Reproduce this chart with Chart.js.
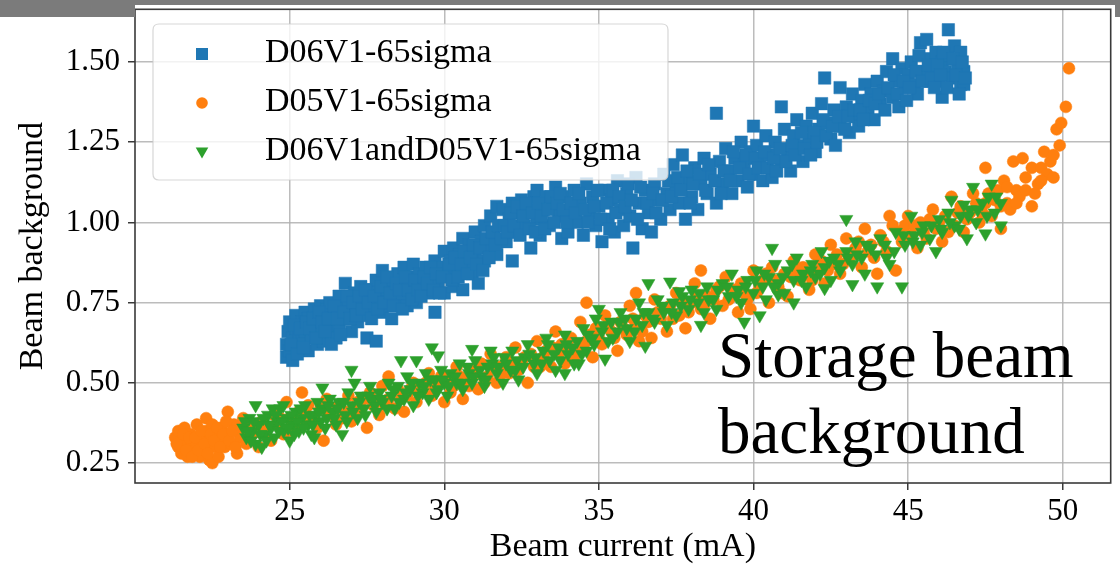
<!DOCTYPE html>
<html>
<head>
<meta charset="utf-8">
<script src="https://cdn.jsdelivr.net/npm/chart.js@4.4.1/dist/chart.umd.min.js"></script>
<style>
  html, body { margin: 0; padding: 0; background: #ffffff; }
  #wrap { position: relative; width: 1120px; height: 564px; }
  canvas { display: block; }
</style>
</head>
<body>
<div id="wrap"><canvas id="c" width="1120" height="564"></canvas></div>
<script>
// ---------- data ----------
const xTicks = [25, 30, 35, 40, 45, 50];
const yTicks = [0.25, 0.50, 0.75, 1.00, 1.25, 1.50];
const seriesNames = ['D06V1-65sigma', 'D05V1-65sigma', 'D06V1andD05V1-65sigma'];
const xTitle = 'Beam current (mA)';
const yTitle = 'Beam background';
const noteLines = ['Storage beam', 'background'];

const d06v1 = [
[24.9,0.58],[24.9,0.62],[24.95,0.66],[25.0,0.60],[25.0,0.69],[25.1,0.64],[25.1,0.57],[25.2,0.67],[25.2,0.71],[25.3,0.61],[25.3,0.65],[25.4,0.69],[25.4,0.63],[25.5,0.72],[25.5,0.66],[25.6,0.60],[25.6,0.70],[25.7,0.64],[25.8,0.73],[25.8,0.67],[25.9,0.62],[25.9,0.70],[26.0,0.74],[26.0,0.66],
[26.1,0.70],[26.1,0.63],[26.2,0.73],[26.3,0.67],[26.3,0.75],[26.4,0.70],[26.5,0.64],[26.5,0.72],[26.6,0.77],[26.6,0.68],[26.7,0.74],[26.8,0.81],[26.8,0.70],[26.9,0.76],[27.0,0.72],[27.0,0.66],[27.1,0.78],
[27.2,0.74],[27.2,0.69],[27.3,0.80],[27.4,0.76],[27.5,0.71],[27.5,0.64],[27.6,0.79],[27.7,0.74],[27.8,0.63],[27.8,0.82],[27.9,0.77],[28.0,0.72],[28.0,0.85],[28.1,0.79],[28.2,0.75],[28.3,0.82],[28.3,0.70],[28.4,0.78],[28.5,0.84],
[28.6,0.76],[28.7,0.80],[28.7,0.86],[28.8,0.74],[28.9,0.83],[29.0,0.79],[29.0,0.87],[29.1,0.75],[29.2,0.84],[29.3,0.80],[29.4,0.86],[29.5,0.78],[29.6,0.83],[29.7,0.72],[29.7,0.88],[29.8,0.81],[29.9,0.86],[30.0,0.78],[30.0,0.91],
[30.1,0.84],[30.2,0.88],[30.3,0.80],[30.3,0.92],[30.4,0.86],[30.5,0.90],[30.6,0.79],[30.6,0.95],[30.7,0.87],[30.8,0.93],[30.9,0.84],[31.0,0.97],[31.0,0.90],[31.1,0.81],[31.2,0.94],[31.3,0.99],[31.3,0.88],[31.4,0.92],[31.5,1.02],
[31.6,0.96],[31.7,1.05],[31.7,0.90],[31.8,0.99],[31.9,1.04],[32.0,0.94],[32.1,1.01],[32.2,1.06],[32.2,0.88],[32.3,0.97],[32.4,1.03],[32.5,1.07],[32.6,0.99],[32.7,1.04],[32.8,0.92],[32.9,1.08],[33.0,1.01],[33.0,1.10],
[33.1,0.96],[33.2,1.04],[33.3,1.08],[33.4,0.99],[33.5,1.05],[33.6,1.11],[33.7,1.02],[33.8,0.95],[33.9,1.08],[34.0,1.03],[34.0,0.97],[34.2,1.10],[34.3,1.00],[34.4,1.06],[34.5,0.96],[34.6,1.12],[34.7,1.03],[34.8,1.08],[34.9,0.99],[35.0,1.05],
[35.1,0.94],[35.2,1.10],[35.3,1.01],[35.4,1.07],[35.5,0.97],[35.6,1.13],[35.7,1.04],[35.8,0.99],[35.9,1.09],[36.0,1.02],[36.1,0.92],[36.2,1.14],[36.3,1.06],[36.4,0.98],[36.5,1.10],[36.6,1.03],[36.7,0.97],[36.8,1.12],[36.9,1.07],[37.0,1.01],
[37.1,1.15],[37.2,1.09],[37.3,1.04],[37.4,1.18],[37.5,1.11],[37.6,1.06],[37.7,1.21],[37.8,1.01],[37.9,1.13],[38.0,1.08],[38.1,1.17],[38.2,1.04],[38.3,1.12],[38.4,1.20],[38.5,1.09],[38.6,1.15],[38.8,1.34],[38.8,1.06],[38.9,1.19],[39.0,1.12],
[39.1,1.23],[39.2,1.16],[39.3,1.09],[39.4,1.20],[39.5,1.13],[39.6,1.25],[39.7,1.18],[39.8,1.11],[39.9,1.22],[40.0,1.30],[40.0,1.15],[40.1,1.24],[40.2,1.19],[40.3,1.13],[40.4,1.27],[40.5,1.21],[40.6,1.14],[40.7,1.25],[40.9,1.36],[40.9,1.19],
[41.0,1.29],[41.1,1.22],[41.2,1.16],[41.3,1.27],[41.4,1.32],[41.5,1.24],[41.6,1.19],[41.7,1.30],[41.8,1.26],[41.9,1.34],[42.0,1.22],[42.1,1.29],[42.2,1.37],[42.3,1.45],[42.4,1.31],[42.5,1.26],[42.6,1.35],[42.8,1.42],[42.8,1.30],[43.0,1.36],
[43.1,1.28],[43.2,1.40],[43.3,1.33],[43.4,1.30],[43.5,1.38],[43.6,1.43],[43.7,1.35],[43.8,1.40],[43.9,1.32],[44.0,1.44],[44.1,1.37],[44.2,1.41],[44.3,1.47],[44.5,1.51],[44.5,1.39],[44.6,1.44],[44.7,1.36],[44.8,1.48],[44.9,1.42],[45.0,1.46],
[45.1,1.50],[45.2,1.43],[45.3,1.40],[45.4,1.56],[45.5,1.47],[45.6,1.57],[45.6,1.44],[45.7,1.51],[45.8,1.48],[45.9,1.53],[46.0,1.44],[46.1,1.39],[46.1,1.50],[46.2,1.47],[46.3,1.60],[46.3,1.52],[46.4,1.45],[46.5,1.55],[46.6,1.49],[46.7,1.43],[46.7,1.53],[46.8,1.47],[46.8,1.43],
[25.05,0.62],[25.15,0.68],[25.25,0.59],[25.35,0.67],[25.45,0.61],[25.55,0.69],[25.65,0.67],[25.75,0.70],[25.85,0.64],[25.95,0.72],[26.05,0.69],[26.15,0.66],[26.25,0.70],[26.35,0.62],[26.45,0.74],[26.55,0.70],[26.65,0.65],[26.75,0.72],[26.85,0.77],[26.95,0.70],
[27.05,0.75],[27.15,0.71],[27.25,0.77],[27.35,0.73],[27.45,0.79],[27.55,0.75],[27.65,0.70],[27.75,0.77],[27.85,0.73],[27.95,0.80],[28.05,0.75],[28.15,0.83],[28.25,0.78],[28.35,0.74],[28.45,0.81],[28.55,0.79],[28.65,0.73],[28.75,0.83],[28.85,0.79],[28.95,0.76],
[29.05,0.82],[29.15,0.79],[29.25,0.77],[29.35,0.83],[29.45,0.81],[29.55,0.86],[29.65,0.79],[29.75,0.84],[29.85,0.78],[29.95,0.83],[30.15,0.87],[30.25,0.82],[30.35,0.89],[30.45,0.83],[30.55,0.87],[30.65,0.91],[30.75,0.84],[30.85,0.89],[30.95,0.93],[31.05,0.87],
[31.15,0.92],[31.25,0.85],[31.35,0.95],[31.45,0.89],[31.55,0.97],[31.65,0.93],[31.75,0.99],[31.85,0.95],[31.95,0.99],[32.05,0.97],[32.15,1.03],[32.25,0.99],[32.35,1.05],[32.45,0.96],[32.55,1.02],[32.65,1.06],[32.75,0.98],[32.85,1.03],[32.95,0.97],[33.05,1.06],
[33.15,1.02],[33.25,0.98],[33.35,1.04],[33.45,1.08],[33.55,1.00],[33.65,1.06],[33.75,1.09],[33.85,1.04],[33.95,1.00],[34.1,1.06],[34.25,1.03],[34.35,1.09],[34.55,1.04],[34.65,1.00],[34.85,1.05],[34.95,1.10],[35.05,1.01],[35.25,1.06],[35.35,0.98],[35.45,1.10],
[35.55,1.03],[35.65,1.08],[35.85,1.05],[35.95,1.12],[36.05,1.07],[36.25,1.01],[36.35,1.11],[36.55,1.06],[36.75,1.09],[36.85,1.03],[37.05,1.07],[37.25,1.13],[37.35,1.08],[37.55,1.14],[37.65,1.10],[37.85,1.16],[37.95,1.06],[38.05,1.12],[38.25,1.15],[38.45,1.10],
[38.55,1.18],[38.75,1.13],[38.95,1.09],[39.05,1.16],[39.25,1.13],[39.35,1.22],[39.55,1.17],[39.75,1.21],[39.85,1.15],[40.05,1.20],[40.15,1.17],[40.35,1.22],[40.45,1.17],[40.65,1.20],[40.75,1.16],[40.85,1.23],[41.05,1.19],[41.25,1.24],[41.35,1.21],[41.55,1.28],
[41.65,1.23],[41.85,1.21],[41.95,1.28],[42.05,1.25],[42.25,1.32],[42.35,1.27],[42.55,1.30],[42.65,1.24],[42.75,1.33],[42.95,1.29],[43.05,1.33],[43.25,1.35],[43.45,1.35],[43.55,1.32],[43.75,1.38],[43.95,1.37],[44.05,1.40],[44.25,1.35],[44.35,1.42],[44.55,1.46],
[44.65,1.40],[44.85,1.44],[44.95,1.38],[45.05,1.42],[45.25,1.47],[45.35,1.52],[45.45,1.44],[45.65,1.49],[45.75,1.45],[45.85,1.42],[45.95,1.49],[46.05,1.46],[46.15,1.53],[46.25,1.42],[46.45,1.51],[46.55,1.46],[46.65,1.40],[46.75,1.50],[46.85,1.45]
];

const d05v1 = [
[21.3,0.33],[21.4,0.30],[21.4,0.35],[21.5,0.28],[21.6,0.32],[21.6,0.36],[21.7,0.27],[21.8,0.30],[21.8,0.34],[21.9,0.29],[22.0,0.37],[22.0,0.31],[22.1,0.27],[22.2,0.33],[22.2,0.29],[22.3,0.39],[22.3,0.35],[22.4,0.26],[22.4,0.31],[22.5,0.37],[22.5,0.25],[22.6,0.30],[22.6,0.34],[22.7,0.27],[22.8,0.32],[22.8,0.36],[22.9,0.30],[23.0,0.41],[23.0,0.34],[23.1,0.31],[23.2,0.37],[23.3,0.28],[23.3,0.35],[23.4,0.33],[23.5,0.39],
[23.6,0.31],[23.7,0.36],[23.8,0.34],[24.0,0.30],[24.1,0.38],[24.2,0.35],[24.4,0.32],[24.5,0.40],[24.6,0.37],[24.8,0.34],[24.9,0.44],[25.0,0.39],[25.1,0.35],[25.3,0.41],[25.4,0.47],[25.4,0.37],[25.6,0.43],[25.7,0.39],[25.9,0.36],[26.0,0.42],[26.1,0.32],
[26.2,0.45],[26.3,0.40],[26.5,0.37],[26.6,0.43],[26.8,0.41],[26.9,0.46],[27.0,0.38],[27.2,0.44],[27.3,0.42],[27.5,0.36],[27.6,0.47],[27.7,0.43],[27.9,0.40],[28.0,0.49],[28.2,0.52],[28.2,0.45],[28.4,0.42],[28.5,0.48],[28.7,0.41],[28.8,0.46],[29.0,0.50],[29.1,0.44],[29.3,0.48],[29.5,0.53],[29.6,0.46],[29.8,0.50],[30.0,0.44],
[30.1,0.52],[30.3,0.49],[30.4,0.55],[30.6,0.45],[30.7,0.51],[30.9,0.54],[31.1,0.48],[31.2,0.56],[31.4,0.52],[31.5,0.59],[31.7,0.50],[31.8,0.55],[32.0,0.58],[32.1,0.53],[32.3,0.61],[32.5,0.56],[32.7,0.50],[32.8,0.59],[33.0,0.63],[33.1,0.55],[33.3,0.60],[33.45,0.55],[33.6,0.66],[33.8,0.62],[33.9,0.56],[34.1,0.64],[34.3,0.60],[34.4,0.69],[34.6,0.75],[34.6,0.63],[34.8,0.58],[34.9,0.67],
[35.1,0.62],[35.2,0.71],[35.4,0.66],[35.6,0.60],[35.7,0.69],[35.9,0.65],[36.0,0.74],[36.2,0.78],[36.2,0.68],[36.3,0.63],[36.5,0.71],[36.7,0.64],[36.8,0.76],[37.0,0.70],[37.2,0.66],[37.3,0.74],[37.5,0.78],[37.6,0.71],[37.8,0.67],[38.0,0.75],[38.1,0.81],[38.3,0.85],[38.3,0.73],[38.5,0.77],[38.6,0.70],[38.8,0.79],[39.0,0.74],[39.1,0.83],[39.3,0.77],[39.5,0.72],[39.6,0.81],[39.8,0.76],[39.9,0.73],[40.0,0.85],
[40.1,0.78],[40.3,0.82],[40.5,0.75],[40.6,0.86],[40.8,0.80],[41.0,0.84],[41.1,0.77],[41.3,0.88],[41.5,0.82],[41.6,0.86],[41.8,0.79],[42.0,0.90],[42.1,0.85],[42.3,0.81],[42.5,0.93],[42.6,0.87],[42.8,0.84],[43.0,0.95],[43.1,0.89],[43.3,0.92],[43.5,0.86],[43.6,0.98],[43.8,0.93],[44.0,0.84],[44.1,0.96],[44.3,0.91],[44.4,1.02],[44.5,0.99],[44.6,0.85],[44.8,0.94],[45.0,1.02],
[45.1,0.96],[45.3,0.92],[45.4,1.00],[45.6,0.95],[45.8,1.04],[45.9,0.98],[46.1,0.94],[46.2,1.02],[46.4,1.08],[46.5,0.99],[46.7,1.05],[46.8,0.97],[47.0,1.03],[47.1,1.09],[47.3,1.00],[47.5,1.17],[47.5,1.06],[47.7,1.02],[47.9,1.10],[48.0,0.98],[48.1,1.13],[48.2,1.06],[48.3,1.04],[48.4,1.19],[48.5,1.10],[48.6,1.08],[48.7,1.20],[48.8,1.14],[49.0,1.05],[49.0,1.17],[49.2,1.12],[49.3,1.17],[49.4,1.22],[49.5,1.15],[49.6,1.19],[49.7,1.21],[49.7,1.14],[49.8,1.29],[49.9,1.24],[49.95,1.31],[50.1,1.36],[50.2,1.48],
[21.35,0.31],[21.55,0.34],[21.65,0.29],[21.75,0.33],[21.85,0.27],[21.95,0.33],[22.05,0.29],[22.15,0.35],[22.25,0.31],[22.35,0.28],[22.45,0.34],[22.55,0.32],[22.65,0.36],[22.75,0.30],[22.85,0.34],[22.95,0.38],[23.05,0.32],[23.15,0.35],[23.25,0.30],[23.45,0.36],
[23.65,0.34],[23.9,0.37],[24.3,0.36],[24.7,0.39],[25.2,0.38],[25.5,0.41],[25.8,0.38],[26.4,0.42],[26.7,0.39],[27.1,0.41],[27.4,0.45],[27.8,0.44],[28.1,0.43],[28.6,0.45],[28.9,0.48],[29.2,0.47],[29.4,0.50],[29.7,0.48],[29.9,0.52],[30.2,0.47],
[30.5,0.52],[30.8,0.49],[31.0,0.53],[31.3,0.50],[31.6,0.55],[31.9,0.53],[32.2,0.56],[32.4,0.54],[32.6,0.58],[32.9,0.55],[33.2,0.58],[33.5,0.61],[33.7,0.59],[34.0,0.61],[34.2,0.58],[34.5,0.62],[34.7,0.65],[35.0,0.64],[35.3,0.68],[35.5,0.64],
[35.8,0.67],[36.1,0.70],[36.4,0.66],[36.6,0.69],[36.9,0.72],[37.4,0.70],[37.7,0.75],[37.9,0.72],[38.2,0.77],[38.4,0.74],[38.7,0.76],[38.9,0.80],[39.2,0.76],[39.4,0.79],[39.7,0.78],[40.2,0.80],[40.4,0.84],[40.7,0.82],[40.9,0.78],[41.2,0.83],
[41.4,0.85],[41.7,0.84],[41.9,0.82],[42.2,0.88],[42.4,0.85],[42.7,0.90],[42.9,0.87],[43.2,0.90],[43.4,0.94],[43.7,0.91],[43.9,0.89],[44.2,0.94],[44.7,0.97],[44.9,0.99],[45.2,0.99],[45.5,0.97],[45.7,1.01],[46.0,1.00],[46.3,0.97],[46.6,1.03],
[46.9,1.01],[47.2,1.06],[47.4,1.03],[47.6,1.09],[47.8,1.07],[48.0,1.05],[48.2,1.11],[48.5,1.06],[48.8,1.10],[49.1,1.09],[49.3,1.13]
];

const d06v1AndD05v1 = [
[23.5,0.36],[23.6,0.33],[23.7,0.39],[23.8,0.35],[23.9,0.31],[23.9,0.43],[24.0,0.37],[24.1,0.30],[24.2,0.34],[24.3,0.40],[24.4,0.36],[24.45,0.42],[24.5,0.33],[24.6,0.38],[24.7,0.42],[24.8,0.35],[24.8,0.43],[24.9,0.39],[25.0,0.32],[25.1,0.37],[25.2,0.41],[25.3,0.35],[25.4,0.39],[25.5,0.43],[25.6,0.37],[25.7,0.34],[25.8,0.40],[25.8,0.33],[25.9,0.44],[26.0,0.38],[26.06,0.485],
[26.1,0.42],[26.2,0.39],[26.3,0.45],[26.4,0.41],[26.5,0.37],[26.6,0.44],[26.7,0.34],[26.8,0.40],[26.9,0.47],[27.0,0.43],[27.0,0.54],[27.1,0.50],[27.2,0.39],[27.3,0.46],[27.4,0.42],[27.6,0.49],[27.7,0.45],[27.8,0.41],[27.9,0.47],[28.0,0.44],[28.2,0.50],[28.3,0.46],[28.4,0.42],[28.5,0.49],[28.6,0.57],[28.7,0.45],[28.8,0.52],[28.9,0.48],[29.0,0.43],[29.1,0.57],[29.2,0.50],[29.3,0.47],[29.4,0.53],[29.5,0.45],[29.6,0.61],[29.7,0.51],[29.8,0.585],[29.8,0.48],[29.9,0.54],
[30.0,0.50],[30.1,0.46],[30.2,0.53],[30.4,0.50],[30.5,0.56],[30.6,0.48],[30.8,0.53],[30.9,0.605],[30.9,0.50],[31.0,0.57],[31.2,0.52],[31.3,0.49],[31.4,0.55],[31.5,0.60],[31.6,0.58],[31.7,0.53],[31.9,0.50],[32.0,0.56],[32.2,0.60],[32.3,0.54],[32.4,0.51],[32.6,0.58],[32.7,0.62],[32.9,0.56],[33.0,0.53],[33.2,0.60],[33.3,0.64],[33.4,0.57],[33.6,0.54],[33.7,0.61],[33.9,0.65],[33.9,0.53],[34.0,0.59],[34.2,0.56],[34.3,0.63],[34.35,0.56],[34.5,0.67],[34.6,0.60],[34.8,0.64],[34.9,0.70],[35.0,0.73],
[35.1,0.66],[35.2,0.575],[35.3,0.63],[35.4,0.69],[35.6,0.66],[35.7,0.72],[35.9,0.67],[36.0,0.63],[36.2,0.70],[36.3,0.75],[36.4,0.68],[36.5,0.615],[36.6,0.81],[36.6,0.72],[36.8,0.69],[36.9,0.76],[37.1,0.72],[37.2,0.68],[37.3,0.815],[37.4,0.75],[37.5,0.71],[37.6,0.785],[37.7,0.77],[37.9,0.73],[38.0,0.79],[38.2,0.75],[38.3,0.68],[38.4,0.72],[38.5,0.80],[38.7,0.76],[38.8,0.73],[39.0,0.81],[39.2,0.77],[39.3,0.84],[39.5,0.79],[39.6,0.75],[39.7,0.69],[39.8,0.82],[40.0,0.78],
[40.1,0.85],[40.2,0.71],[40.3,0.80],[40.4,0.76],[40.5,0.83],[40.6,0.92],[40.7,0.87],[40.8,0.775],[40.8,0.81],[41.0,0.78],[41.1,0.85],[41.3,0.75],[41.3,0.82],[41.4,0.89],[41.6,0.84],[41.7,0.80],[41.9,0.87],[42.0,0.83],[42.2,0.91],[42.3,0.795],[42.3,0.86],[42.5,0.82],[42.6,0.89],[42.8,0.85],[43.0,1.01],[43.0,0.91],[43.2,0.807],[43.2,0.87],[43.3,0.94],[43.5,0.89],[43.6,0.84],[43.8,0.92],[44.0,0.80],[44.1,0.95],[44.3,0.89],[44.4,0.87],[44.6,0.97],[44.8,0.80],[44.9,0.93],
[45.1,1.02],[45.2,0.96],[45.4,0.93],[45.5,0.99],[45.7,0.95],[45.9,0.91],[46.0,1.01],[46.1,0.97],[46.3,1.03],[46.4,1.07],[46.5,0.99],[46.7,1.02],[46.8,1.055],[46.9,0.95],[47.0,1.04],[47.1,1.11],[47.2,1.00],[47.4,1.06],[47.5,0.965],[47.6,1.08],[47.7,1.12],[47.8,1.03],[48.0,0.99],[48.0,1.06],
[23.55,0.38],[23.65,0.35],[23.75,0.32],[23.85,0.38],[24.05,0.34],[24.15,0.39],[24.25,0.32],[24.35,0.37],[24.55,0.40],[24.65,0.35],[24.75,0.38],[24.95,0.36],[25.05,0.40],[25.15,0.34],[25.25,0.38],[25.35,0.42],[25.45,0.36],[25.65,0.40],[25.75,0.37],[25.95,0.41],
[26.15,0.36],[26.25,0.43],[26.45,0.39],[26.55,0.42],[26.75,0.44],[26.85,0.38],[27.05,0.41],[27.25,0.44],[27.45,0.40],[27.55,0.46],[27.75,0.43],[27.95,0.45],[28.15,0.42],[28.35,0.48],[28.55,0.44],[28.75,0.47],[28.95,0.50],[29.15,0.46],[29.35,0.49],[29.55,0.51],
[29.75,0.47],[29.95,0.51],[30.15,0.49],[30.35,0.52],[30.55,0.50],[30.75,0.55],[30.95,0.52],[31.15,0.54],[31.35,0.51],[31.55,0.56],[31.75,0.55],[31.95,0.58],[32.15,0.54],[32.35,0.57],[32.55,0.55],[32.75,0.59],[32.95,0.58],[33.15,0.56],[33.35,0.62],[33.55,0.59],
[33.75,0.57],[33.95,0.62],[34.15,0.61],[34.45,0.59],[34.65,0.65],[34.85,0.62],[35.15,0.68],[35.45,0.64],[35.65,0.69],[35.85,0.70],[36.15,0.66],[36.45,0.72],[36.75,0.70],[37.05,0.74],[37.35,0.72],[37.65,0.74],[37.95,0.76],[38.25,0.78],[38.55,0.76],[38.85,0.79],
[39.15,0.80],[39.45,0.77],[39.75,0.80],[40.05,0.82],[40.35,0.84],[40.65,0.80],[40.95,0.83],[41.25,0.87],[41.55,0.82],[41.85,0.85],[42.15,0.84],[42.45,0.88],[42.75,0.87],[43.05,0.89],[43.35,0.90],[43.65,0.93],[43.95,0.90],[44.25,0.93],[44.55,0.91],[44.85,0.96],
[45.15,0.94],[45.45,0.97],[45.75,0.99],[46.05,0.98],[46.35,1.00],[46.65,0.98],[46.95,1.02],[47.25,1.04],[47.55,1.02],[47.85,1.08]
];

// ---------- styling ----------
const FONT = '"Liberation Serif", "Times New Roman", serif';
const C_BLUE = '#1f77b4', C_ORANGE = '#ff7f0e', C_GREEN = '#2ca02c';
const GRID = 'rgba(176,176,176,0.85)';

const toPts = arr => arr.map(([x, y]) => ({ x, y }));

const decorPlugin = {
  id: 'decor',
  beforeDraw(chart) {
    const ctx = chart.ctx;
    ctx.save();
    ctx.fillStyle = '#ffffff';
    ctx.fillRect(0, 0, chart.width, chart.height);
    ctx.restore();
  },
  afterDraw(chart) {
    const ctx = chart.ctx;
    const a = chart.chartArea;
    ctx.save();
    // frame
    ctx.strokeStyle = '#3a3a3a';
    ctx.lineWidth = 1.6;
    ctx.strokeRect(a.left, a.top, a.right - a.left, a.bottom - a.top);

    // legend box
    const lx = 153, ly = 24, lw = 515, lh = 156, r = 6;
    ctx.beginPath();
    ctx.moveTo(lx + r, ly);
    ctx.lineTo(lx + lw - r, ly);
    ctx.quadraticCurveTo(lx + lw, ly, lx + lw, ly + r);
    ctx.lineTo(lx + lw, ly + lh - r);
    ctx.quadraticCurveTo(lx + lw, ly + lh, lx + lw - r, ly + lh);
    ctx.lineTo(lx + r, ly + lh);
    ctx.quadraticCurveTo(lx, ly + lh, lx, ly + lh - r);
    ctx.lineTo(lx, ly + r);
    ctx.quadraticCurveTo(lx, ly, lx + r, ly);
    ctx.closePath();
    ctx.fillStyle = 'rgba(255,255,255,0.8)';
    ctx.fill();
    ctx.strokeStyle = 'rgba(204,204,204,0.8)';
    ctx.lineWidth = 1.2;
    ctx.stroke();

    const mx = 202;
    const rows = [54, 103, 152];
    const base = [62, 111, 160];
    ctx.fillStyle = C_BLUE;
    ctx.fillRect(mx - 6, rows[0] - 6, 12, 12);
    ctx.fillStyle = C_ORANGE;
    ctx.beginPath(); ctx.arc(mx, rows[1], 5.8, 0, Math.PI * 2); ctx.fill();
    ctx.fillStyle = C_GREEN;
    ctx.beginPath();
    ctx.moveTo(mx - 6.3, rows[2] - 4.5);
    ctx.lineTo(mx + 6.3, rows[2] - 4.5);
    ctx.lineTo(mx, rows[2] + 6.5);
    ctx.closePath(); ctx.fill();

    ctx.fillStyle = '#000';
    ctx.font = '34px ' + FONT;
    ctx.textBaseline = 'alphabetic';
    ctx.textAlign = 'left';
    seriesNames.forEach((n, i) => ctx.fillText(n, 265, base[i]));

    // annotation text
    ctx.font = '65px ' + FONT;
    ctx.fillText(noteLines[0], 718, 377);
    ctx.fillText(noteLines[1], 718, 453);

    // grey strip at the top of the picture
    ctx.fillStyle = '#7b7b7b';
    ctx.fillRect(0, 0, chart.width, 5);
    ctx.fillRect(0, 0, 135, 17);
    ctx.fillRect(1115, 0, 5, 17);
    ctx.restore();
  }
};

new Chart(document.getElementById('c'), {
  type: 'scatter',
  data: {
    datasets: [
      { label: seriesNames[0], data: toPts(d06v1), order: 3,
        pointStyle: 'rect', pointRadius: 8.8, pointBorderWidth: 0.5,
        backgroundColor: C_BLUE, borderColor: C_BLUE },
      { label: seriesNames[1], data: toPts(d05v1), order: 2,
        pointStyle: 'circle', pointRadius: 6, pointBorderWidth: 0.5,
        backgroundColor: C_ORANGE, borderColor: C_ORANGE },
      { label: seriesNames[2], data: toPts(d06v1AndD05v1), order: 1,
        pointStyle: 'triangle', pointRotation: 180, pointRadius: 7.6, pointBorderWidth: 0.5,
        backgroundColor: C_GREEN, borderColor: C_GREEN }
    ]
  },
  options: {
    responsive: false,
    animation: false,
    devicePixelRatio: 1,
    layout: { padding: { left: 0, right: 7, top: 6, bottom: 0 } },
    plugins: { legend: { display: false }, tooltip: { enabled: false } },
    scales: {
      x: {
        type: 'linear', position: 'bottom', min: 20.0, max: 51.55,
        afterBuildTicks: s => { s.ticks = xTicks.map(v => ({ value: v })); },
        afterFit: s => { s.height = 81; s.paddingLeft = 0; s.paddingRight = 0; s.paddingTop = 0; s.paddingBottom = 0; },
        grid: { color: GRID, lineWidth: 1.5, tickLength: 7, tickColor: '#3a3a3a', tickWidth: 1.5, drawTicks: true },
        border: { display: false },
        ticks: { color: '#000', padding: 3, maxRotation: 0, font: { family: FONT, size: 31 },
                 callback: v => String(v) },
        title: { display: true, text: xTitle, color: '#000', padding: 0,
                 font: { family: FONT, size: 34, lineHeight: 1.0 } }
      },
      y: {
        type: 'linear', position: 'left', min: 0.188, max: 1.664,
        afterBuildTicks: s => { s.ticks = yTicks.map(v => ({ value: v })); },
        afterFit: s => { s.width = 135; s.paddingLeft = 0; s.paddingRight = 0; s.paddingTop = 0; s.paddingBottom = 0; },
        grid: { color: GRID, lineWidth: 1.5, tickLength: 7, tickColor: '#3a3a3a', tickWidth: 1.5, drawTicks: true },
        border: { display: false },
        ticks: { color: '#000', padding: 8, font: { family: FONT, size: 31 },
                 callback: v => Number(v).toFixed(2) },
        title: { display: true, text: yTitle, color: '#000', padding: { top: 16, bottom: 0 },
                 font: { family: FONT, size: 34, lineHeight: 1.0 } }
      }
    }
  },
  plugins: [decorPlugin]
});
</script>
</body>
</html>
